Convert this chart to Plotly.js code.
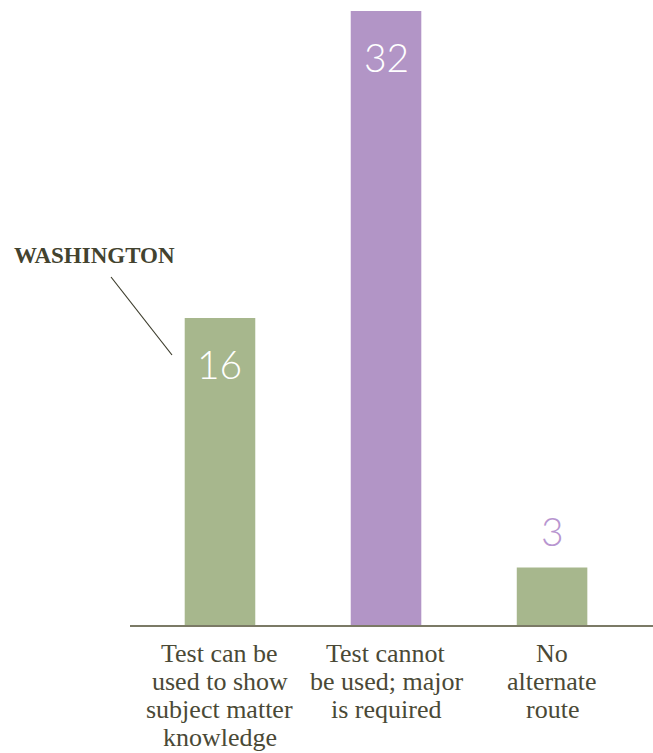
<!DOCTYPE html>
<html>
<head>
<meta charset="utf-8">
<script src="https://cdn.plot.ly/plotly-3.0.1.min.js"></script>
<style>html,body{margin:0;padding:0;background:#fff;}#chart{width:653px;height:753px;}</style>
</head>
<body>
<div id="chart"></div>
<script>
// Data
const categories = ["Test can be used to show subject matter knowledge", "Test cannot be used; major is required", "No alternate route"];
const values = [16, 32, 3];
const tickLines = [
  ["Test can be", "used to show", "subject matter", "knowledge"],
  ["Test cannot", "be used; major", "is required"],
  ["No", "alternate", "route"]
];
const barColors = ["#a7b78d", "#b295c6", "#a7b78d"];
const calloutText = "WASHINGTON";

const inkColor = "#4a4936";
const serif = "Liberation Serif";
const lightSans = "Lato";

const annotations = values.map((v, i) => {
  const inside = v >= 10;
  return {
    x: categories[i], y: v, xref: 'x', yref: 'y',
    text: String(v), showarrow: false,
    xanchor: 'center', yanchor: 'middle',
    yshift: inside ? -46 : 36,
    font: {family: lightSans, size: 39, weight: 300, color: inside ? '#ffffff' : '#b896d0'}
  };
});
categories.forEach((c, i) => {
  tickLines[i].forEach((line, j) => {
    annotations.push({
      x: c, y: 0, xref: 'x', yref: 'y',
      text: line, showarrow: false,
      xanchor: 'center', yanchor: 'middle', align: 'center',
      yshift: -(28 + j * 28),
      font: {family: serif, size: 26, color: inkColor}
    });
  });
});
annotations.push({
  xref: 'paper', yref: 'paper', x: -0.0688, y: 0.5904,
  xanchor: 'center', yanchor: 'middle', showarrow: false,
  text: '<b>' + calloutText + '</b>',
  font: {family: serif, size: 23, color: '#43432f'}
});

const data = [{
  type: 'bar',
  x: categories,
  y: values,
  width: 0.425,
  marker: {color: barColors, line: {width: 0}},
  hoverinfo: 'x+y'
}];

const layout = {
  width: 653, height: 753,
  margin: {l: 130, r: 0, t: 0, b: 128, pad: 0},
  paper_bgcolor: '#ffffff', plot_bgcolor: '#ffffff',
  showlegend: false,
  xaxis: {
    type: 'category',
    range: [-0.542, 2.608],
    showline: true, linecolor: '#7b7a66', linewidth: 2,
    showgrid: false, zeroline: false, ticks: '',
    showticklabels: false, automargin: false
  },
  yaxis: {
    range: [0, 32.57], visible: false, showgrid: false, zeroline: false, fixedrange: true
  },
  annotations: annotations,
  shapes: [{
    type: 'line', xref: 'paper', yref: 'paper',
    x0: -0.0363, y0: 0.5568, x1: 0.0803, y1: 0.432,
    line: {color: '#3c3c2c', width: 1.2}
  }]
};

Plotly.newPlot('chart', data, layout, {displayModeBar: false, staticPlot: true});
</script>
</body>
</html>
